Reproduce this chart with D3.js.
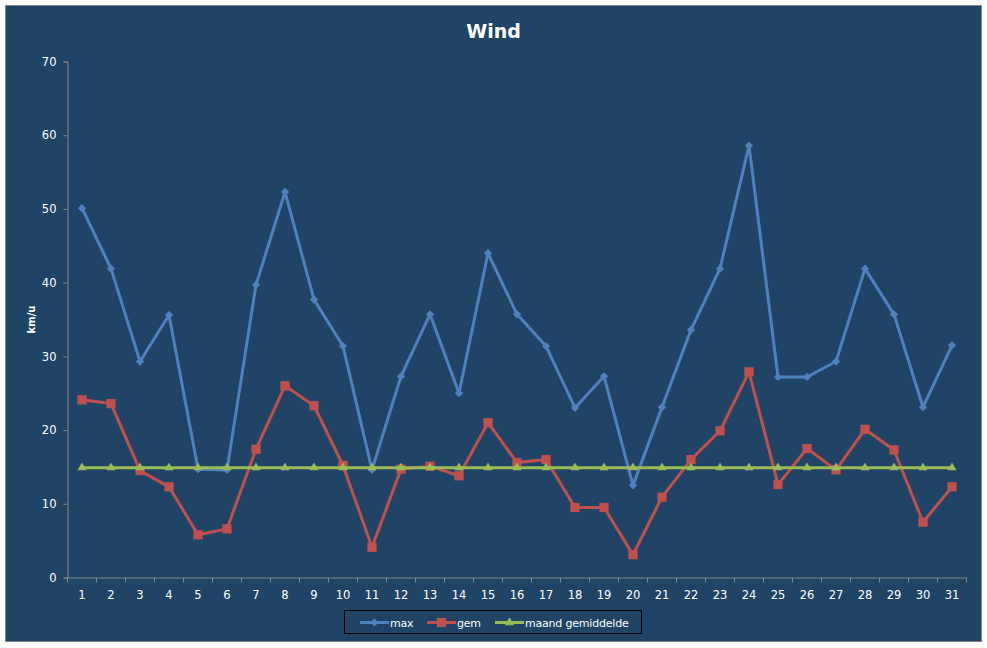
<!DOCTYPE html>
<html>
<head>
<meta charset="utf-8">
<script src="https://cdn.jsdelivr.net/npm/d3@7"></script>
<style>
  body { margin: 0; background: #fff; }
  svg { display: block; font-family: "DejaVu Sans", Verdana, sans-serif; }
</style>
</head>
<body>
<svg class="wind-chart" width="987" height="648"></svg>
<script>
// dagen van de maand
const days = d3.range(1, 32);
const maxWind = [50.1, 41.9, 29.3, 35.6, 14.7, 14.6, 39.7, 52.3, 37.7, 31.4,
                 14.6, 27.3, 35.7, 25.0, 44.0, 35.7, 31.4, 23.0, 27.3, 12.5,
                 23.1, 33.6, 41.9, 58.6, 27.2, 27.2, 29.3, 41.9, 35.7, 23.1, 31.5];
const gemWind = [24.1, 23.6, 14.5, 12.3, 5.8, 6.6, 17.4, 26.0, 23.3, 15.2,
                 4.1, 14.7, 15.1, 13.8, 21.0, 15.6, 16.0, 9.5, 9.5, 3.1,
                 10.9, 16.0, 19.9, 27.9, 12.6, 17.5, 14.6, 20.1, 17.3, 7.5, 12.3];
const maandGem = days.map(() => 14.9);
const yTicks = [0, 10, 20, 30, 40, 50, 60, 70];

const series = [
    {name: "max", values: maxWind, color: "#4f81bd", marker: "diamond"},
    {name: "gem", values: gemWind, color: "#c0504d", marker: "square"},
    {name: "maand gemiddelde", values: maandGem, color: "#9bbb59", marker: "triangle"}
];

function drawWindChart() {
    const svg = d3.select("svg.wind-chart");
    const margin = {top: 61.5, right: 20.5, bottom: 70.5, left: 67.5};
    const width = +svg.attr("width") - margin.left - margin.right;
    const height = +svg.attr("height") - margin.top - margin.bottom;

    // achtergrond
    svg.append("rect")
        .attr("x", 5.5).attr("y", 5.5)
        .attr("width", 976).attr("height", 636)
        .attr("fill", "#1f4466")
        .attr("stroke", "#868686");

    svg.append("text")
        .attr("x", 493.5).attr("y", 38)
        .attr("text-anchor", "middle")
        .attr("fill", "#fff")
        .attr("font-size", 19)
        .attr("font-weight", "bold")
        .text("Wind");

    const x = d3.scaleBand().range([0, width]).domain(days);
    const y = d3.scaleLinear().range([height, 0]).domain([0, 70]);

    const g = svg.append("g")
        .attr("transform", `translate(${margin.left}, ${margin.top})`);

    const yAxis = g.append("g")
        .call(d3.axisLeft(y).tickValues(yTicks).tickSize(4).tickPadding(7));
    const xAxis = g.append("g")
        .attr("transform", `translate(0, ${height})`)
        .call(d3.axisBottom(x).tickSize(0).tickPadding(13));

    // tick marks op de grenzen van de categorieen
    xAxis.selectAll(".bound")
        .data(d3.range(0, days.length + 1))
        .enter().append("line")
            .attr("x1", i => i * x.bandwidth())
            .attr("x2", i => i * x.bandwidth())
            .attr("y1", 0).attr("y2", 5)
            .attr("stroke", "#868686");

    [xAxis, yAxis].forEach(a => {
        a.select(".domain").attr("stroke", "#868686");
        a.selectAll(".tick line").attr("stroke", "#868686");
        a.selectAll("text").attr("fill", "#fff").attr("font-size", 11.5)
            .attr("font-family", "DejaVu Sans, Verdana, sans-serif");
    });

    g.append("text")
        .attr("transform", `translate(-33, ${height / 2}) rotate(-90)`)
        .attr("text-anchor", "middle")
        .attr("fill", "#fff")
        .attr("font-size", 10)
        .attr("font-weight", "bold")
        .text("km/u");

    const symbols = {
        diamond: {d: d3.symbol().type(d3.symbolSquare).size(34)(), rot: 45},
        square: {d: d3.symbol().type(d3.symbolSquare).size(85)(), rot: 0},
        triangle: {d: d3.symbol().type(d3.symbolTriangle).size(36)(), rot: 0}
    };

    const line = d3.line()
        .x((d, i) => x(days[i]) + x.bandwidth() / 2)
        .y(d => y(d));

    series.forEach(s => {
        g.append("path")
            .datum(s.values)
            .attr("fill", "none")
            .attr("stroke", s.color)
            .attr("stroke-width", 3)
            .attr("stroke-linejoin", "round")
            .attr("d", line);
        g.selectAll(".m-" + s.marker)
            .data(s.values)
            .enter().append("path")
                .attr("class", "m-" + s.marker)
                .attr("transform", (d, i) =>
                    `translate(${x(days[i]) + x.bandwidth() / 2}, ${y(d)}) rotate(${symbols[s.marker].rot})`)
                .attr("d", symbols[s.marker].d)
                .attr("fill", s.color);
    });

    // legenda
    const legend = svg.append("g");
    legend.append("rect")
        .attr("x", 344.5).attr("y", 610.5)
        .attr("width", 297).attr("height", 23)
        .attr("fill", "none")
        .attr("stroke", "#000");
    const legendX = [360, 427, 495];
    series.forEach((s, i) => {
        const item = legend.append("g")
            .attr("transform", `translate(${legendX[i]}, 622.5)`);
        item.append("line")
            .attr("x1", 0).attr("x2", 29)
            .attr("stroke", s.color).attr("stroke-width", 3);
        item.append("path")
            .attr("transform", `translate(14.5, 0) rotate(${symbols[s.marker].rot})`)
            .attr("d", symbols[s.marker].d)
            .attr("fill", s.color);
        item.append("text")
            .attr("x", 30).attr("y", 4)
            .attr("fill", "#fff")
            .attr("font-size", 11)
            .attr("letter-spacing", -0.2)
            .text(s.name);
    });
}

drawWindChart();
</script>
</body>
</html>
